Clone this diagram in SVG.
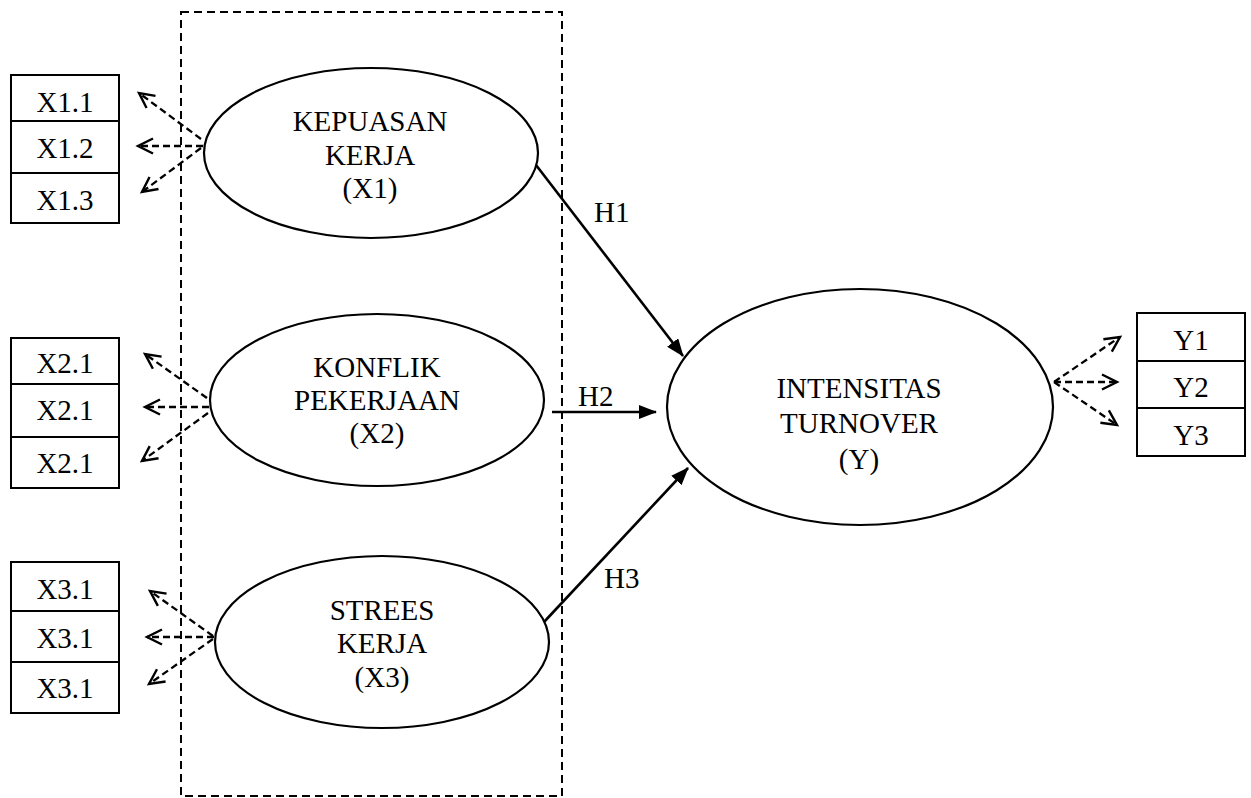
<svg xmlns="http://www.w3.org/2000/svg" width="1251" height="798" viewBox="0 0 1251 798">
<style>
text{font-family:"Liberation Serif","Times New Roman",serif;font-size:29px;fill:#000}
.c{text-anchor:middle}
.ell{fill:#fff;stroke:#000;stroke-width:2.2}
.box{fill:#fff;stroke:#000;stroke-width:2}
.frame{fill:none;stroke:#000;stroke-width:2;stroke-dasharray:8 5}
.ind{fill:none;stroke:#000;stroke-width:2.3;stroke-dasharray:7 4;marker-end:url(#open)}
.hyp{fill:none;stroke:#000;stroke-width:2.6;marker-end:url(#solid)}
</style>
<defs>
<marker id="open" markerUnits="userSpaceOnUse" viewBox="0 0 18 16" refX="16" refY="8" markerWidth="18" markerHeight="16" orient="auto" overflow="visible">
<path d="M1,0.5 L16,8 L1,15.5" fill="none" stroke="#000" stroke-width="2.4" stroke-dasharray="none"/>
</marker>
<marker id="solid" markerUnits="userSpaceOnUse" viewBox="0 0 18 14" refX="17" refY="7" markerWidth="18" markerHeight="14" orient="auto">
<path d="M0,0 L18,7 L0,14 z" fill="#000"/>
</marker>
</defs>
<rect class="frame" x="181" y="12" width="381" height="784"/>
<g id="connectors">
<path class="ind" d="M201,139 L139,93"/>
<path class="ind" d="M203,146 L138,146"/>
<path class="ind" d="M201,148 L142,192"/>
<path class="ind" d="M207,398 L145,354"/>
<path class="ind" d="M209,407 L145,407"/>
<path class="ind" d="M208,413 L142,461"/>
<path class="ind" d="M213,636 L150,591"/>
<path class="ind" d="M214,637 L147,637"/>
<path class="ind" d="M213,639 L149,684"/>
<path class="ind" d="M1054,382 L1120,337"/>
<path class="ind" d="M1054,382 L1117,382"/>
<path class="ind" d="M1054,382 L1117,425"/>
<path class="hyp" d="M536,165 L683,356"/>
<path class="hyp" d="M552,412 L656,412"/>
<path class="hyp" d="M544,622 L688,468"/>
<text x="594" y="222">H1</text>
<text x="578" y="406">H2</text>
<text x="604" y="588">H3</text>
</g>
<g id="x1">
<ellipse class="ell" cx="371" cy="153" rx="167" ry="85"/>
<text class="c" x="370" y="131">KEPUASAN</text>
<text class="c" x="370" y="165">KERJA</text>
<text class="c" x="370" y="198">(X1)</text>
</g>
<g id="x2">
<ellipse class="ell" cx="377" cy="400" rx="167" ry="86"/>
<text class="c" x="377" y="377">KONFLIK</text>
<text class="c" x="377" y="410">PEKERJAAN</text>
<text class="c" x="377" y="443">(X2)</text>
</g>
<g id="x3">
<ellipse class="ell" cx="382" cy="642" rx="167" ry="86"/>
<text class="c" x="382" y="620">STREES</text>
<text class="c" x="382" y="653">KERJA</text>
<text class="c" x="382" y="687">(X3)</text>
</g>
<g id="y">
<ellipse class="ell" cx="860" cy="407" rx="193" ry="118"/>
<text class="c" x="859" y="398">INTENSITAS</text>
<text class="c" x="859" y="433">TURNOVER</text>
<text class="c" x="859" y="469">(Y)</text>
</g>
<g id="x1-indicators">
<rect class="box" x="11" y="75" width="108" height="46"/>
<rect class="box" x="11" y="121" width="108" height="52"/>
<rect class="box" x="11" y="173" width="108" height="50"/>
<text class="c" x="65" y="112">X1.1</text>
<text class="c" x="65" y="158">X1.2</text>
<text class="c" x="65" y="210">X1.3</text>
</g>
<g id="x2-indicators">
<rect class="box" x="11" y="338" width="108" height="46"/>
<rect class="box" x="11" y="384" width="108" height="53"/>
<rect class="box" x="11" y="437" width="108" height="51"/>
<text class="c" x="65" y="373">X2.1</text>
<text class="c" x="65" y="420">X2.1</text>
<text class="c" x="65" y="473">X2.1</text>
</g>
<g id="x3-indicators">
<rect class="box" x="11" y="562" width="108" height="49"/>
<rect class="box" x="11" y="611" width="108" height="51"/>
<rect class="box" x="11" y="662" width="108" height="51"/>
<text class="c" x="65" y="599">X3.1</text>
<text class="c" x="65" y="648">X3.1</text>
<text class="c" x="65" y="698">X3.1</text>
</g>
<g id="y-indicators">
<rect class="box" x="1137" y="313" width="108" height="48"/>
<rect class="box" x="1137" y="361" width="108" height="47"/>
<rect class="box" x="1137" y="408" width="108" height="48"/>
<text class="c" x="1191" y="350">Y1</text>
<text class="c" x="1191" y="397">Y2</text>
<text class="c" x="1191" y="445">Y3</text>
</g>
</svg>
